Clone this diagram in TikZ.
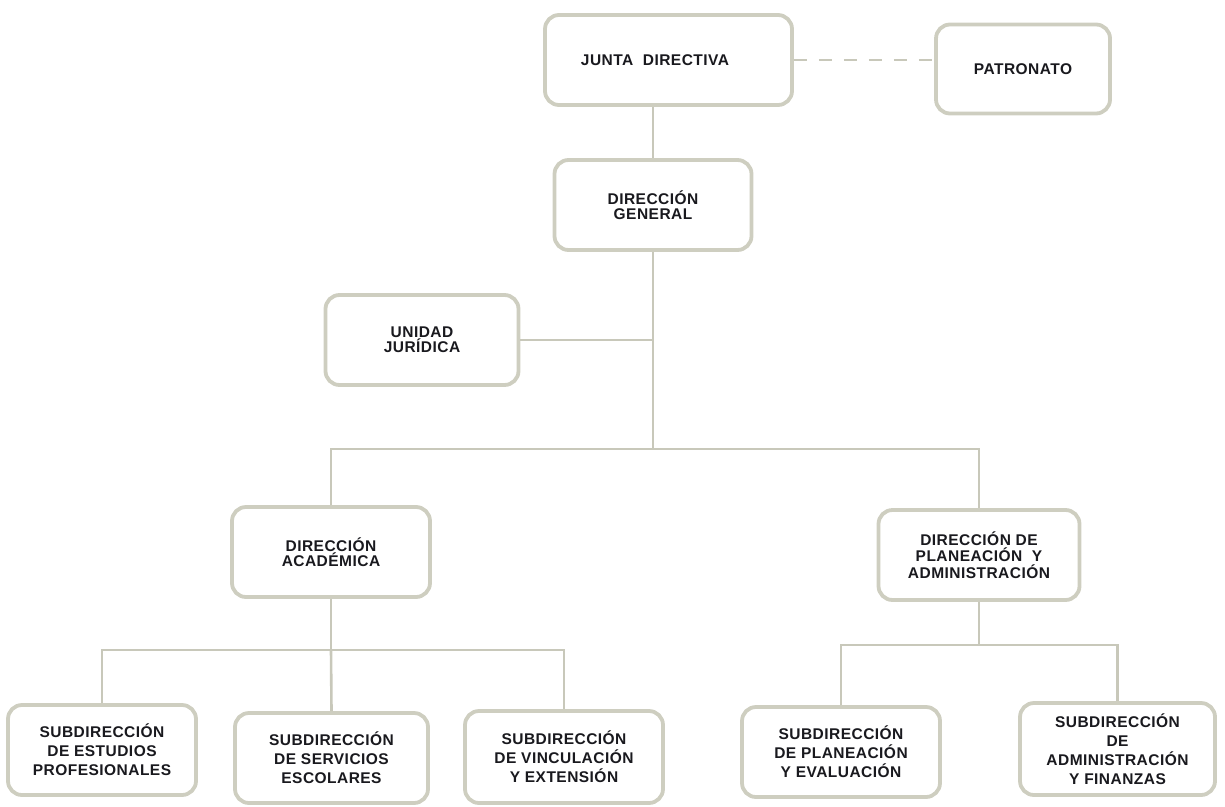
\documentclass[tikz,border=0pt]{standalone}
\usepackage{fontspec}
\setmainfont{Liberation Sans}
\definecolor{bordc}{RGB}{206,206,192}
\definecolor{linec}{RGB}{200,200,186}
\definecolor{txtc}{RGB}{25,25,30}
\begin{document}
\begin{tikzpicture}[x=1pt,y=-1pt,
  box/.style={draw=bordc, line width=3.8pt, rounded corners=14pt, fill=white,
    align=center, inner sep=0pt, text=txtc,
    font=\fontsize{15.5}{15}\selectfont\bfseries\addfontfeature{LetterSpace=3}},
  midbox/.style={box, font=\fontsize{15.5}{16.5}\selectfont\bfseries\addfontfeature{LetterSpace=3}},
  subbox/.style={box, font=\fontsize{15.5}{19}\selectfont\bfseries\addfontfeature{LetterSpace=3}},
  txt/.style={align=center, inner sep=0pt, text=txtc,
    font=\fontsize{15.5}{15}\selectfont\bfseries\addfontfeature{LetterSpace=3}},
  conn/.style={draw=linec, line width=2.6pt},
  dconn/.style={conn, dash pattern=on 13pt off 12pt}]
\useasboundingbox (0,0) rectangle (1225,806);
% top level
\node[box, minimum width=247pt, minimum height=90pt] (jd) at (668.5,60) {};
\node[txt] (jdt) at (655,60) {JUNTA\ \ DIRECTIVA};
\node[box, minimum width=174pt, minimum height=89pt] (pat) at (1023,69) {PATRONATO};
\node[box, minimum width=197pt, minimum height=90pt] (dg) at (653,205) {DIRECCIÓN\\GENERAL};
\node[box, minimum width=193pt, minimum height=90pt] (uj) at (422,340) {UNIDAD\\JURÍDICA};
\node[box, minimum width=198pt, minimum height=90pt] (da) at (331,552) {DIRECCIÓN\\ACADÉMICA};
\node[midbox, minimum width=201pt, minimum height=90pt] (dpa) at (979,555) {DIRECCIÓN DE\\PLANEACIÓN\ \ Y\\ADMINISTRACIÓN};
% bottom level
\node[subbox, minimum width=188pt, minimum height=90pt] (s1) at (102,750) {SUBDIRECCIÓN\\DE ESTUDIOS\\PROFESIONALES};
\node[subbox, minimum width=193pt, minimum height=90pt] (s2) at (331.5,758) {SUBDIRECCIÓN\\DE SERVICIOS\\ESCOLARES};
\node[subbox, minimum width=198pt, minimum height=92pt] (s3) at (564,757) {SUBDIRECCIÓN\\DE VINCULACIÓN\\Y EXTENSIÓN};
\node[subbox, minimum width=198pt, minimum height=90pt] (s4) at (841,752) {SUBDIRECCIÓN\\DE PLANEACIÓN\\Y EVALUACIÓN};
\node[subbox, minimum width=195pt, minimum height=92pt] (s5) at (1117.5,749) {SUBDIRECCIÓN\\DE\\ADMINISTRACIÓN\\Y FINANZAS};
% connectors
\coordinate (bus1) at (653,449);
\coordinate (bus2) at (331,650);
\coordinate (bus3) at (979,645);
\draw[dconn] (jd.east) -- (pat.west |- jd.east);
\draw[conn] (jd.south -| dg.north) -- (dg.north);
\draw[conn] (dg.south) -- (bus1);
\draw[conn] (uj.east) -- (uj.east -| dg.south);
\draw[conn] (da.north) |- (bus1) -| (dpa.north);
\draw[conn] (da.south) -- (bus2);
\draw[conn] (s1.north) |- (bus2) -| (s3.north);
\draw[conn] (bus2) -- (s2.north);
\draw[conn] (dpa.south) -- (bus3);
\draw[conn] (s4.north) |- (bus3) -| (s5.north);
\end{tikzpicture}
\end{document}
